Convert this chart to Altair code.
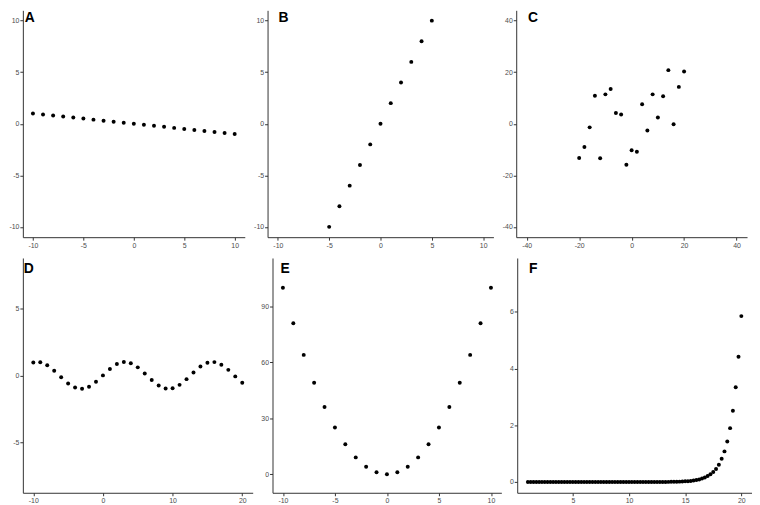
import altair as alt
import pandas as pd

# ---- data ----
a_x = list(range(-10, 11))
a_y = [1.0, 0.9, 0.8, 0.7, 0.6, 0.5, 0.4, 0.3, 0.2, 0.1, 0.0,
       -0.1, -0.2, -0.3, -0.4, -0.5, -0.6, -0.7, -0.8, -0.9, -1.0]

b_x = list(range(-5, 6))
b_y = [-10, -8, -6, -4, -2, 0, 2, 4, 6, 8, 10]

c_x = list(range(-20, 21, 2))
c_y = [-13.3, -9.05, -1.4, 10.9, -13.4, 11.4, 13.5, 4.2, 3.6, -15.9, -10.3,
       -10.9, 7.6, -2.6, 11.4, 2.4, 10.7, 20.8, -0.2, 14.3, 20.3]

d_x = list(range(-10, 21))
d_y = [0.959, 0.978, 0.757, 0.351, -0.141, -0.598, -0.909, -0.997, -0.841, -0.479,
       0.0, 0.479, 0.841, 0.997, 0.909, 0.598, 0.141, -0.351, -0.757, -0.978,
       -0.959, -0.706, -0.279, 0.215, 0.657, 0.938, 0.989, 0.798, 0.412, -0.075, -0.544]

e_x = list(range(-10, 11))
e_y = [100, 81, 64, 49, 36, 25, 16, 9, 4, 1, 0, 1, 4, 9, 16, 25, 36, 49, 64, 81, 100]

f_x = [1 + 0.25 * i for i in range(77)]
f_y = ([0.0] * 40 +
       [0.0003, 0.0004, 0.0005, 0.0007, 0.0009, 0.0012, 0.0015, 0.002, 0.0026, 0.0034,
        0.0045, 0.006] +
       [0.0075, 0.010, 0.013, 0.017, 0.023, 0.030, 0.039, 0.052, 0.069, 0.090,
        0.12, 0.16, 0.21, 0.27, 0.35, 0.46, 0.61, 0.82, 1.08, 1.43,
        1.90, 2.51, 3.34, 4.42, 5.85])

LABEL_FONT = "Liberation Sans"


def panel(x, y, label, xdom, xticks, ydom, yticks, w, h, lx, ly):
    df = pd.DataFrame({"x": x, "y": y})
    ax_common = dict(
        title=None, grid=False, domainColor="#333333", domainWidth=1,
        tickColor="#333333", tickSize=3, tickWidth=1, labelColor="#4d4d4d",
        labelFontSize=7, labelFont=LABEL_FONT, labelPadding=1,
        labelExpr="datum.value + ''",
    )
    pts = alt.Chart(df).mark_circle(size=16, color="black", opacity=1).encode(
        x=alt.X("x:Q", scale=alt.Scale(domain=xdom, nice=False, zero=False),
                axis=alt.Axis(values=xticks, **ax_common)),
        y=alt.Y("y:Q", scale=alt.Scale(domain=ydom, nice=False, zero=False),
                axis=alt.Axis(values=yticks, **ax_common)),
    )
    lab = alt.Chart(pd.DataFrame({"t": [label]})).mark_text(
        fontSize=14, fontWeight="bold", font=LABEL_FONT, align="left",
        baseline="top", color="black"
    ).encode(text="t:N", x=alt.value(lx), y=alt.value(ly))
    return alt.layer(pts, lab).properties(width=w, height=h)


H1 = 229
H2 = 237

A = panel(a_x, a_y, "A", [-11, 11], [-10, -5, 0, 5, 10], [-11, 11], [-10, -5, 0, 5, 10], 224, H1, 2, 1)
B = panel(b_x, b_y, "B", [-11, 11], [-10, -5, 0, 5, 10], [-11, 11], [-10, -5, 0, 5, 10], 228, H1, 11, 1)
C = panel(c_x, c_y, "C", [-44, 44], [-40, -20, 0, 20, 40], [-44, 44], [-40, -20, 0, 20, 40], 233, H1, 12, 1)
D = panel(d_x, d_y, "D", [-11.5, 21.5], [-10, 0, 10, 20], [-8.75, 8.75], [-5, 0, 5], 232, H2, 1, 4)
E = panel(e_x, e_y, "E", [-11, 11], [-10, -5, 0, 5, 10], [-10, 116], [0, 30, 60, 90], 231, H2, 8, 4)
F = panel(f_x, f_y, "F", [0.05, 20.95], [5, 10, 15, 20], [-0.38, 7.9], [0, 2, 4, 6], 237, H2, 12, 4)

row1 = alt.hconcat(A, B, C, spacing=8)
row2 = alt.hconcat(D, E, F, spacing=8)

chart = alt.vconcat(row1, row2, spacing=10).properties(
    padding={"left": 0, "top": 0, "right": 0, "bottom": 0},
    background="white",
).configure_view(strokeWidth=0)

chart.save("out.html", embed_options={"renderer": "svg", "actions": False})
